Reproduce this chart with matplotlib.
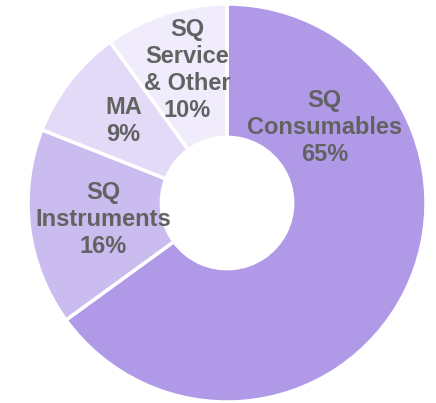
import matplotlib
matplotlib.use("Agg")
import matplotlib.pyplot as plt

labels = ["SQ\nConsumables\n65%", "SQ\nInstruments\n16%", "MA\n9%", "SQ\nService\n& Other\n10%"]
values = [65, 16, 9, 10]
colors = ["#B09AE8", "#CBBCF0", "#E2DAF6", "#F0ECFB"]

fig = plt.figure(figsize=(4.36, 4.03), dpi=100)
ax = fig.add_axes([28/436, 1/403, 398/436, 398/403])
ax.pie(values, colors=colors, startangle=90, counterclock=False, radius=1,
       wedgeprops=dict(width=0.67, edgecolor="white", linewidth=2.5))
ax.set_xlim(-1, 1)
ax.set_ylim(-1, 1)
ax.set_aspect("equal")
ax.axis("off")

pos = [(0.49, 0.38), (-0.62, -0.085), (-0.52, 0.41), (-0.20, 0.67)]
for lab, (x, y) in zip(labels, pos):
    ax.text(x, y, lab, ha="center", va="center", fontsize=17, fontweight="bold",
            color="#626262", family="Liberation Sans", linespacing=1.22)

fig.savefig("out.png", dpi=100)
